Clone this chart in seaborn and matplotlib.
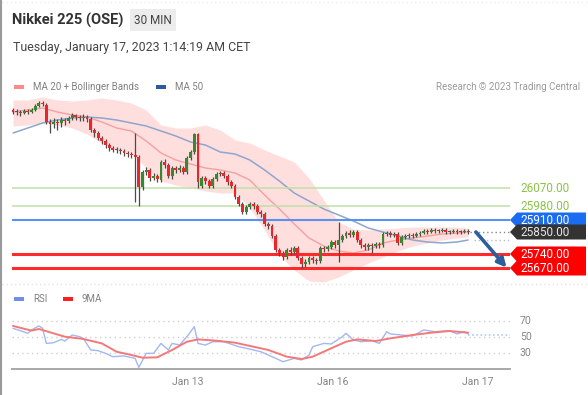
import numpy as np
import matplotlib
matplotlib.use("Agg")
import matplotlib.pyplot as plt
import seaborn as sns
from matplotlib.patches import Polygon, Rectangle
from matplotlib.transforms import IdentityTransform, blended_transform_factory
from matplotlib.lines import Line2D

# ---------------- data ----------------
OPEN = [26460, 26450, 26450, 26445, 26455, 26450, 26460, 26480, 26495, 26485,
        26400, 26390, 26400, 26395, 26410, 26405, 26420, 26435, 26425, 26420,
        26425, 26415, 26360, 26345, 26320, 26305, 26285, 26270, 26260, 26260,
        26255, 26245, 26240, 26235, 26225, 26075, 26150, 26160, 26120, 26130,
        26110, 26200, 26185, 26130, 26170, 26160, 26170, 26150, 26220, 26250,
        26340, 26080, 26120, 26105, 26080, 26115, 26140, 26145, 26130, 26100,
        26080, 26025, 25990, 25950, 25975, 25990, 25980, 25950, 25940, 25890,
        25880, 25830, 25760, 25745, 25725, 25760, 25750, 25770, 25720, 25690,
        25700, 25720, 25710, 25705, 25770, 25765, 25775, 25800, 25785, 25810,
        25830, 25845, 25835, 25850, 25810, 25785, 25775, 25785, 25780, 25790,
        25785, 25840, 25845, 25835, 25840, 25795, 25825, 25830, 25835, 25830,
        25840, 25845, 25855, 25850, 25860, 25855, 25855, 25860, 25850, 25850,
        25855, 25850, 25850, 25855]
CLOSE = [26450, 26450, 26445, 26455, 26450, 26460, 26480, 26495, 26490, 26400,
         26390, 26400, 26395, 26410, 26405, 26420, 26435, 26425, 26420, 26425,
         26415, 26360, 26345, 26320, 26305, 26285, 26270, 26260, 26260, 26255,
         26245, 26240, 26235, 26225, 26075, 26150, 26160, 26120, 26130, 26115,
         26200, 26185, 26130, 26170, 26160, 26170, 26150, 26220, 26250, 26340,
         26100, 26120, 26105, 26080, 26115, 26140, 26145, 26130, 26100, 26080,
         26025, 25990, 25950, 25975, 25990, 25980, 25950, 25940, 25890, 25880,
         25830, 25760, 25745, 25725, 25760, 25750, 25770, 25720, 25690, 25700,
         25720, 25710, 25705, 25770, 25765, 25775, 25800, 25785, 25810, 25830,
         25845, 25835, 25850, 25810, 25785, 25775, 25785, 25780, 25790, 25785,
         25840, 25845, 25835, 25840, 25795, 25825, 25830, 25835, 25830, 25840,
         25845, 25855, 25850, 25860, 25855, 25855, 25860, 25850, 25850, 25855,
         25850, 25850, 25855, 25850]
HIGH = [26470, 26465, 26460, 26465, 26465, 26470, 26490, 26505, 26505, 26495,
        26415, 26420, 26415, 26425, 26420, 26430, 26445, 26440, 26435, 26440,
        26435, 26425, 26370, 26355, 26330, 26315, 26295, 26280, 26275, 26270,
        26265, 26255, 26250, 26345, 26235, 26160, 26175, 26170, 26145, 26140,
        26210, 26215, 26195, 26180, 26180, 26185, 26180, 26230, 26260, 26345,
        26345, 26130, 26130, 26115, 26125, 26150, 26155, 26155, 26140, 26110,
        26090, 26035, 26000, 25985, 26000, 26000, 25990, 25960, 25950, 25900,
        25890, 25840, 25770, 25755, 25770, 25775, 25780, 25780, 25730, 25715,
        25730, 25730, 25720, 25780, 25780, 25785, 25810, 25810, 25900, 25840,
        25855, 25860, 25860, 25860, 25820, 25795, 25795, 25795, 25800, 25800,
        25850, 25855, 25855, 25850, 25850, 25835, 25840, 25845, 25845, 25850,
        25855, 25865, 25865, 25870, 25870, 25865, 25870, 25870, 25860, 25865,
        25865, 25860, 25865, 25865]
LOW = [26440, 26435, 26430, 26440, 26440, 26445, 26455, 26475, 26480, 26390,
       26345, 26370, 26360, 26375, 26385, 26395, 26410, 26410, 26405, 26405,
       26400, 26350, 26325, 26310, 26290, 26270, 26255, 26250, 26245, 26240,
       26230, 26225, 26220, 26000, 25980, 26060, 26135, 26105, 26110, 26100,
       26100, 26170, 26120, 26115, 26145, 26150, 26140, 26140, 26210, 26240,
       26070, 26070, 26090, 26070, 26070, 26105, 26130, 26120, 26085, 26070,
       26015, 25980, 25940, 25940, 25965, 25965, 25940, 25925, 25880, 25865,
       25820, 25750, 25730, 25710, 25715, 25735, 25740, 25710, 25670, 25675,
       25690, 25695, 25690, 25695, 25750, 25755, 25765, 25770, 25700, 25800,
       25820, 25825, 25825, 25800, 25770, 25760, 25760, 25745, 25770, 25770,
       25775, 25830, 25825, 25825, 25785, 25785, 25815, 25820, 25820, 25825,
       25830, 25840, 25840, 25845, 25845, 25845, 25850, 25840, 25840, 25845,
       25840, 25840, 25845, 25840]

MA_BARS = [0, 4, 8, 12, 16, 20, 24, 28, 32, 36, 40, 44, 48, 52, 56, 60,
           64, 68, 72, 76, 80, 84, 88, 92, 96, 100, 104, 108, 112, 116, 120, 123]
MA20 = [26450, 26460, 26470, 26450, 26435, 26425, 26400, 26370, 26355, 26305,
        26245, 26210, 26190, 26170, 26160, 26145, 26110, 26035, 25965, 25890,
        25820, 25780, 25755, 25745, 25760, 25795, 25810, 25820, 25830, 25840,
        25845, 25850]
BB_UP = [26510, 26510, 26525, 26510, 26505, 26510, 26520, 26510, 26495, 26460,
         26385, 26370, 26370, 26385, 26360, 26310, 26295, 26260, 26230, 26200,
         26120, 26010, 25900, 25865, 25860, 25865, 25870, 25875, 25875, 25875,
         25875, 25870]
BB_LO = [26380, 26385, 26395, 26385, 26370, 26340, 26295, 26260, 26245, 26170,
         26105, 26085, 26070, 26055, 26045, 26045, 25970, 25860, 25735, 25660,
         25605, 25600, 25625, 25660, 25695, 25725, 25755, 25780, 25795, 25810,
         25820, 25825]
MA50 = [26345, 26370, 26395, 26410, 26420, 26425, 26420, 26410, 26395, 26380,
        26355, 26330, 26300, 26285, 26250, 26240, 26210, 26160, 26105, 26045,
        26005, 25965, 25935, 25905, 25870, 25850, 25830, 25810, 25800, 25795,
        25800, 25810]

RSI_BARS = [0, 2, 4, 5, 7, 8, 9, 11, 13, 14, 16, 18, 19, 21, 23, 25, 27, 30, 33, 34,
            36, 38, 40, 42, 43, 45, 47, 48, 49, 50, 52, 54, 57, 61, 63, 67, 71, 73, 76, 78,
            80, 81, 84, 86, 89, 90, 92, 94, 97, 99, 101, 102, 105, 108, 111, 114, 118, 120,
            122, 123]
RSI = [60.8, 57.9, 54.6, 58.8, 63.8, 60.8, 42.0, 42.9, 47.0, 45.0, 52.5, 50.4, 48.3,
       33.8, 32.9, 29.6, 25.4, 26.3, 23.3, 12.0, 29.6, 29.6, 42.0, 33.8, 42.0, 40.0,
       50.4, 56.6, 62.9, 42.0, 40.0, 44.1, 44.1, 37.9, 35.9, 31.6, 23.3, 19.1, 23.3,
       21.3, 27.5, 37.9, 42.0, 41.3, 50.4, 54.6, 46.3, 44.1, 45.4, 42.0, 56.6, 53.8,
       52.5, 51.3, 58.8, 56.6, 57.9, 53.8, 56.6, 53.8]
MA9_BARS = [0, 5, 7, 14, 19, 24, 28, 32, 35, 39, 43, 47, 50, 55, 60, 69, 74, 78,
            81, 85, 90, 93, 98, 102, 108, 113, 118, 123]
RSI_MA9 = [63.8, 58.0, 60.0, 50.4, 47.5, 42.0, 31.6, 27.5, 24.1, 24.6, 33.8, 44.1,
           47.0, 45.4, 42.9, 33.8, 25.4, 22.5, 25.4, 33.8, 44.1, 47.0, 45.0, 48.3,
           52.5, 55.4, 57.5, 55.4]

LEVELS = [26070, 25980, 25910, 25850, 25740, 25670]
LEVEL_TEXT = ["26070.00", "25980.00", "25910.00", "25850.00", "25740.00", "25670.00"]
ARROW_FROM = (125.1, 25850)
ARROW_TO = (133.4, 25672)

DATE_TICKS = [47.3, 86.5, 125.7]
DATE_LABELS = ["Jan 13", "Jan 16", "Jan 17"]
RSI_TICKS = [70, 50, 30]

# ---------------- style ----------------
sns.set_style("white")
plt.rcParams["font.family"] = ["Roboto", "DejaVu Sans"]

W, H = 588, 395
def fx(px): return px / W
def fy(py): return 1 - py / H

fig = plt.figure(figsize=(W / 100, H / 100), dpi=100)
fig.patch.set_facecolor("white")

XL = ((12 - 13) / 3.7, (510 - 13) / 3.7)

# ---------------- main price panel ----------------
ax = fig.add_axes([fx(12), fy(285), fx(510) - fx(12), (285 - 95) / H])
ax.fill_between(MA_BARS, BB_LO, BB_UP, color="#ffdede", lw=0, zorder=1)
sns.lineplot(x=MA_BARS, y=MA20, ax=ax, color="#f5a0a0", lw=1.0, zorder=2)
sns.lineplot(x=MA_BARS, y=MA50, ax=ax, color="#8ea6cf", lw=1.1, zorder=2)

level_style = [("#bfe0a6", 1.1), ("#bfe0a6", 1.1), ("#5b8ff0", 1.5),
               (None, 0), ("#ff2a2a", 2.2), ("#ff2a2a", 2.2)]
for p, (c, w) in zip(LEVELS, level_style):
    if c:
        ax.axhline(p, color=c, lw=w, zorder=3)

idx = np.arange(len(CLOSE))
o = np.array(OPEN, float); c = np.array(CLOSE, float)
ax.vlines(idx, LOW, HIGH, color="#4a4a4a", lw=0.9, zorder=4)
bottoms = np.minimum(o, c)
heights = np.maximum(np.abs(c - o), 5)
cols = ["#e8262b" if cc < oo else ("#358a2e" if cc > oo else "#555555") for oo, cc in zip(o, c)]
ax.bar(idx, heights, bottom=bottoms, width=0.8, color=cols, lw=0, zorder=5)

ax.plot([idx[-1] + 0.6, XL[1]], [CLOSE[-1]] * 2, color="#888888", ls=(0, (1, 2)), lw=1, zorder=3)
ax.plot([MA_BARS[-1] + 1.5, XL[1]], [MA50[-1]] * 2, color="#a9bde2", ls=(0, (1, 2)), lw=1, zorder=3)

ax.annotate("", xy=ARROW_TO, xytext=ARROW_FROM,
            arrowprops=dict(arrowstyle="-|>", color="#2d5e9c", lw=2.6, mutation_scale=13,
                            shrinkA=0, shrinkB=0),
            annotation_clip=False, zorder=7)

ax.set_xlim(XL)
ax.set_ylim(25585, 26535)
ax.axis("off")

# right-hand price labels
bt = blended_transform_factory(ax.transAxes, ax.transData)
xlab = (520 - 12) / 498
tag_colors = {25910: ("#1a6cf0", "#ffffff"), 25850: ("#333333", "#e6e6e6"),
              25740: ("#ff0000", "#ffffff"), 25670: ("#ff0000", "#ffffff")}
for p, t in zip(LEVELS, LEVEL_TEXT):
    if p in tag_colors:
        fc, tc = tag_colors[p]
        yd = ax.transData.transform((0, p))[1]
        verts = [(510, yd), (517, yd + 7.5), (586, yd + 7.5), (586, yd - 7.5), (517, yd - 7.5)]
        poly = Polygon(verts, closed=True, transform=IdentityTransform(),
                       facecolor=fc, edgecolor="none", zorder=8, clip_on=False)
        ax.add_artist(poly)
        ax.text(xlab, p, t, transform=bt, color=tc, fontsize=8.5, va="center", ha="left",
                clip_on=False, zorder=9)
    else:
        ax.text(xlab, p, t, transform=bt, color="#8bc34a", fontsize=8.5, va="center",
                ha="left", clip_on=False)

# ---------------- RSI panel ----------------
rax = fig.add_axes([fx(12), fy(369), fx(510) - fx(12), (369 - 310) / H])
for v in RSI_TICKS:
    rax.axhline(v, color="#cfcfcf", ls=(0, (1, 2.5)), lw=1, zorder=1)
sns.lineplot(x=RSI_BARS, y=RSI, ax=rax, color="#a3b8f2", lw=1.0, zorder=3)
sns.lineplot(x=MA9_BARS, y=RSI_MA9, ax=rax, color="#f57878", lw=1.4, zorder=4)
rax.plot([RSI_BARS[-1], XL[1]], [RSI[-1] - 1.5] * 2, color="#b8c8f5", ls=(0, (1, 1.5)), lw=1.2, zorder=2)
rax.set_xlim(XL)
rax.set_ylim(10, 83.75)
rax.set_xlabel(""); rax.set_ylabel("")
for s in ["top", "left", "right"]:
    rax.spines[s].set_visible(False)
rax.spines["bottom"].set_color("#a8a8a8")
rax.spines["bottom"].set_linewidth(1.4)
rax.set_yticks([])
rax.set_xticks(DATE_TICKS, labels=DATE_LABELS)
rax.tick_params(axis="x", length=0, pad=6, labelsize=7.5, labelcolor="#858585")
rax.set_xticks(list(XL), minor=True)
rax.tick_params(axis="x", which="minor", length=5, width=1.4, color="#a8a8a8", direction="out")
rbt = blended_transform_factory(rax.transAxes, rax.transData)
for v in RSI_TICKS:
    rax.text(xlab, v, str(v), transform=rbt, color="#858585", fontsize=7.5,
             va="center", ha="left", clip_on=False)

# ---------------- header & legends ----------------
fig.text(fx(12), fy(20), "Nikkei 225 (OSE)", fontsize=10.5, fontweight="bold",
         color="#333333", va="center", ha="left")
fig.add_artist(Rectangle((130, H - 31), 46, 22, transform=IdentityTransform(),
                         facecolor="#ececec", edgecolor="none"))
fig.text(fx(153), fy(20), "30 MIN", fontsize=8.5, color="#444444", va="center", ha="center")
fig.text(fx(13), fy(48), "Tuesday, January 17, 2023 1:14:19 AM CET", fontsize=8.9,
         color="#444444", va="center", ha="left")

def swatch(x0, yc, color):
    fig.add_artist(Rectangle((x0, H - yc - 2), 10, 4, transform=IdentityTransform(),
                             facecolor=color, edgecolor="none"))

swatch(14, 86.5, "#ff8a8a")
fig.text(fx(33), fy(86.5), "MA 20 + Bollinger Bands", fontsize=7, color="#808080", va="center")
swatch(156, 86.5, "#2a5aa8")
fig.text(fx(175), fy(86.5), "MA 50", fontsize=7, color="#808080", va="center")
fig.text(fx(580), fy(86.5), "Research \u00a9 2023 Trading Central", fontsize=7,
         color="#9a9a9a", va="center", ha="right")

swatch(14, 299, "#6f8fe8")
fig.text(fx(33), fy(299), "RSI", fontsize=7, color="#808080", va="center")
swatch(63, 299, "#ff1f1f")
fig.text(fx(82), fy(299), "9MA", fontsize=7, color="#808080", va="center")

# frame decorations
fig.add_artist(Line2D([1, 1], [0, H], transform=IdentityTransform(), color="#9a9a9a", lw=1.5))
fig.add_artist(Line2D([2, W], [H - 284, H - 284], transform=IdentityTransform(),
                      color="#e2e2e2", lw=1, ls=(0, (1, 2))))
fig.add_artist(Line2D([2, W], [H - 2, H - 2], transform=IdentityTransform(),
                      color="#ececec", lw=1, ls=(0, (1, 2))))

fig.savefig("out.png", dpi=100)
